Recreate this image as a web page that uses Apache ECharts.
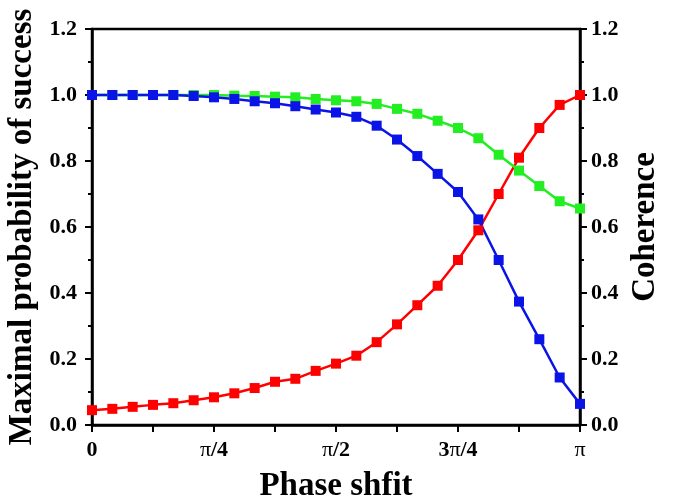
<!DOCTYPE html>
<html>
<head>
<meta charset="utf-8">
<script src="https://cdn.jsdelivr.net/npm/echarts@6/dist/echarts.min.js"></script>
<style>
  html, body { margin: 0; padding: 0; background: #fff; }
  #chart { width: 673px; height: 502px; }
</style>
</head>
<body>
<div id="chart"></div>
<script>
// phase shift in steps of pi/24 (0 .. 24 -> 0 .. pi)
var phaseSteps = [0, 1, 2, 3, 4, 5, 6, 7, 8, 9, 10, 11, 12, 13, 14, 15, 16, 17, 18, 19, 20, 21, 22, 23, 24];
var xTickLabels = { 0: '0', 6: '{p|π}/4', 12: '{p|π}/2', 18: '3{p|π}/4', 24: '{p|π}' };

var redVals = [0.045, 0.049, 0.055, 0.061, 0.066, 0.075, 0.084, 0.096, 0.112, 0.131, 0.140, 0.164,
  0.186, 0.210, 0.251, 0.305, 0.363, 0.422, 0.500, 0.590, 0.700, 0.810, 0.900, 0.970, 1.000];
var greenVals = [1.000, 1.000, 1.000, 1.000, 1.000, 1.000, 1.000, 0.998, 0.997, 0.995, 0.993, 0.988,
  0.984, 0.981, 0.973, 0.958, 0.943, 0.922, 0.900, 0.869, 0.819, 0.771, 0.724, 0.678, 0.656];
var blueVals = [1.000, 1.000, 1.000, 1.000, 1.000, 0.997, 0.993, 0.988, 0.981, 0.975, 0.966, 0.956,
  0.947, 0.934, 0.907, 0.865, 0.815, 0.761, 0.706, 0.623, 0.500, 0.374, 0.260, 0.144, 0.064];

var fontFam = '"Liberation Serif", "Times New Roman", serif';

function pairs(vals) {
  return phaseSteps.map(function (x, i) { return [x, vals[i]]; });
}

function yAxisCfg(pos, name, gap, labelMargin) {
  return {
    type: 'value',
    position: pos,
    min: 0,
    max: 1.2,
    interval: 0.2,
    name: name,
    nameLocation: 'middle',
    nameGap: gap,
    nameTextStyle: { fontFamily: fontFam, fontWeight: 'bold', fontSize: 33, color: '#000' },
    axisLine: { show: true, lineStyle: { color: '#000', width: 2.5 } },
    axisTick: { show: true, inside: false, length: 7, lineStyle: { color: '#000', width: 2 } },
    minorTick: { show: true, splitNumber: 2, length: 4, lineStyle: { color: '#000', width: 2 } },
    splitLine: { show: false },
    axisLabel: {
      fontFamily: fontFam, fontWeight: 'bold', fontSize: 22, color: '#000', margin: labelMargin,
      formatter: function (v) { return v.toFixed(1); }
    }
  };
}

function lineSeries(vals, color) {
  return {
    type: 'line',
    data: pairs(vals),
    symbol: 'rect',
    symbolSize: 10,
    lineStyle: { color: color, width: 2.5 },
    itemStyle: { color: color },
    animation: false
  };
}

var chart = echarts.init(document.getElementById('chart'));
chart.setOption({
  backgroundColor: '#fff',
  grid: {
    left: 92, right: 93, top: 29, bottom: 77,
    outerBoundsMode: 'none',
    containLabel: false,
    show: true, borderColor: '#000', borderWidth: 2.5, backgroundColor: 'transparent'
  },
  xAxis: {
    type: 'value',
    min: 0,
    max: 24,
    interval: 3,
    name: 'Phase shfit',
    nameLocation: 'middle',
    nameGap: 45,
    nameTextStyle: { fontFamily: fontFam, fontWeight: 'bold', fontSize: 33, color: '#000' },
    axisLine: { show: true, onZero: false, lineStyle: { color: '#000', width: 2.5 } },
    axisTick: { show: true, inside: false, length: 7, lineStyle: { color: '#000', width: 2 } },
    splitLine: { show: false },
    axisLabel: {
      fontFamily: fontFam, fontWeight: 'bold', fontSize: 22, color: '#000', margin: 14,
      formatter: function (v) { return xTickLabels[v] !== undefined ? xTickLabels[v] : ''; },
      rich: { p: { fontFamily: fontFam, fontWeight: 'normal', fontSize: 22, color: '#000' } }
    }
  },
  yAxis: [
    yAxisCfg('left', 'Maximal probability of success', 44, 15),
    yAxisCfg('right', 'Coherence', 47, 11)
  ],
  series: [
    lineSeries(redVals, '#ff0000'),
    lineSeries(greenVals, '#22ee22'),
    lineSeries(blueVals, '#0a14e6')
  ]
});
</script>
</body>
</html>
